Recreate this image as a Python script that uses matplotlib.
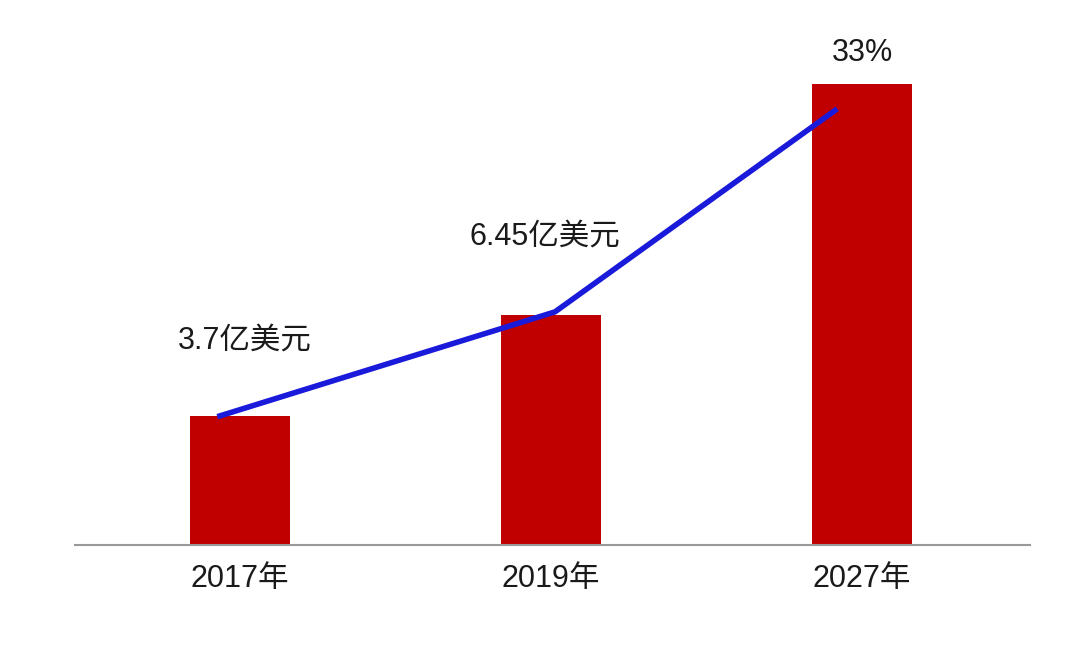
import matplotlib.pyplot as plt

plt.rcParams['font.family'] = ['Liberation Sans', 'Noto Sans CJK SC', 'DejaVu Sans']

years = ['2017年', '2019年', '2027年']
bar_values = [3.7, 6.6, 13.2]
line_x = [-0.064, 1.013, 1.913]
line_y = [3.7, 6.68, 12.45]
labels = ['3.7亿美元', '6.45亿美元', '33%']
label_x = [0.016, 0.98, 2.0]
label_y = [5.87, 8.83, 14.1]

fig = plt.figure(figsize=(10.8, 6.53), dpi=100)
ax = fig.add_axes([75 / 1080, 108 / 653, 955 / 1080, 523.5 / 653])

ax.bar(range(3), bar_values, width=0.32, color='#c00000', zorder=2)
ax.plot(line_x, line_y, color='#1a1adb', lw=4, zorder=3)
for x, y, t in zip(label_x, label_y, labels):
    ax.text(x, y, t, ha='center', va='center', fontsize=22, color='#1a1a1a')

ax.set_xlim(-0.53, 2.54)
ax.set_ylim(0, 15)
ax.set_xticks(range(3))
ax.set_xticklabels(years, fontsize=22, color='#1a1a1a')
ax.tick_params(axis='x', length=0, pad=14)
ax.set_yticks([])
for s in ['top', 'right', 'left']:
    ax.spines[s].set_visible(False)
ax.spines['bottom'].set_color('#999999')
ax.spines['bottom'].set_linewidth(1.5)

fig.savefig('out.png', dpi=100)
